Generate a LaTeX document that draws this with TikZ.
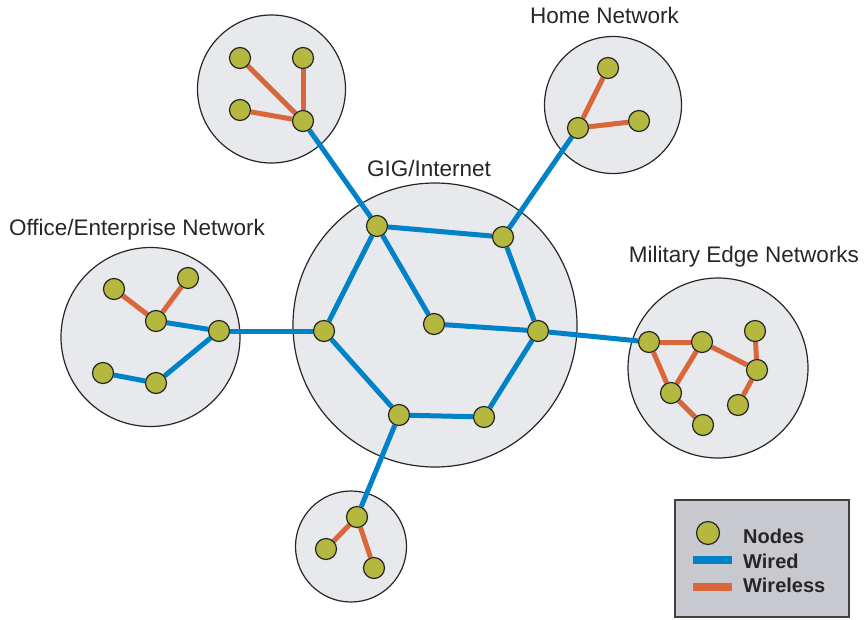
\documentclass[tikz,border=0pt]{standalone}
\usepackage{fontspec}
\setmainfont{Liberation Sans}
\usetikzlibrary{positioning}
\usetikzlibrary{backgrounds}

\definecolor{wiredblue}{RGB}{0,130,200}
\definecolor{wirelessorange}{RGB}{217,103,58}
\definecolor{nodeolive}{RGB}{181,184,62}
\definecolor{cloudgray}{RGB}{232,233,236}
\definecolor{legendgray}{RGB}{199,201,206}

\tikzset{
  netnode/.style={circle, draw=black!85, line width=1.2pt, fill=nodeolive, minimum size=21pt, inner sep=0pt},
  cloud/.style={circle, draw=black!85, line width=1.2pt, fill=cloudgray, inner sep=0pt},
  wired/.style={draw=wiredblue, line width=5pt},
  wireless/.style={draw=wirelessorange, line width=5pt},
  netlabel/.style={font=\fontsize{22.5}{27}\selectfont, text=black!85, inner sep=0pt, anchor=base},
  legendtext/.style={font=\fontsize{20}{24}\selectfont\bfseries, text=black!85, inner sep=0pt, anchor=base west}
}

\begin{document}
\begin{tikzpicture}[x=1pt, y=-1pt]

  \useasboundingbox (0,0) rectangle (867,619);

  % Clouds
  \begin{scope}[on background layer]
    \node[cloud, minimum size=284pt] (gig) at (435,325) {};
    \node[cloud, minimum size=148pt] (squad) at (271.5,89) {};
    \node[cloud, minimum size=137pt] (home) at (613,105) {};
    \node[cloud, minimum size=179pt] (office) at (150.5,337) {};
    \node[cloud, minimum size=180pt] (military) at (718,368) {};
    \node[cloud, minimum size=111pt] (bottom) at (351,546.5) {};
  \end{scope}

  % Labels
  \node[netlabel] (gig_lbl) at (429,176) {GIG/Internet};
  \node[netlabel] (home_lbl) at (604.5,23) {Home Network};
  \node[netlabel] (office_lbl) at (137,235) {Office/Enterprise Network};
  \node[netlabel] (military_lbl) at (744,262) {Military Edge Networks};

  % Define nodes
  \node[netnode] (gig_nw) at (377,226) {};
  \node[netnode] (gig_ne) at (503,237) {};
  \node[netnode] (gig_w) at (324,331) {};
  \node[netnode] (gig_c) at (434,324) {};
  \node[netnode] (gig_e) at (538,331) {};
  \node[netnode] (gig_sw) at (399,415) {};
  \node[netnode] (gig_se) at (484,417) {};

  \node[netnode] (squad_hub) at (303,121) {};
  \node[netnode] (squad_a) at (240,58) {};
  \node[netnode] (squad_b) at (303,58) {};
  \node[netnode] (squad_c) at (240,110) {};

  \node[netnode] (home_hub) at (578,128) {};
  \node[netnode] (home_a) at (608,68) {};
  \node[netnode] (home_b) at (639,121) {};

  \node[netnode] (off_hub) at (219,331) {};
  \node[netnode] (off_mid) at (156,321) {};
  \node[netnode] (off_a) at (114,289) {};
  \node[netnode] (off_b) at (188,278) {};
  \node[netnode] (off_low) at (156,383) {};
  \node[netnode] (off_end) at (103,373) {};

  \node[netnode] (mil_hub) at (649,342) {};
  \node[netnode] (mil_a) at (702,342) {};
  \node[netnode] (mil_b) at (671,393) {};
  \node[netnode] (mil_c) at (703,425) {};
  \node[netnode] (mil_d) at (757,370) {};
  \node[netnode] (mil_e) at (755,331) {};
  \node[netnode] (mil_f) at (738,405) {};

  \node[netnode] (bot_hub) at (357,517) {};
  \node[netnode] (bot_a) at (326,549) {};
  \node[netnode] (bot_b) at (374,568) {};

  % Connect nodes
  \begin{scope}[on background layer]
    \draw[wired] (gig_nw) -- (gig_ne);
    \draw[wired] (gig_nw) -- (gig_w);
    \draw[wired] (gig_nw) -- (gig_c);
    \draw[wired] (gig_ne) -- (gig_e);
    \draw[wired] (gig_c) -- (gig_e);
    \draw[wired] (gig_w) -- (gig_sw);
    \draw[wired] (gig_sw) -- (gig_se);
    \draw[wired] (gig_se) -- (gig_e);

    \draw[wired] (gig_nw) -- (squad_hub);
    \draw[wired] (gig_ne) -- (home_hub);
    \draw[wired] (gig_w) -- (off_hub);
    \draw[wired] (gig_e) -- (mil_hub);
    \draw[wired] (gig_sw) -- (bot_hub);

    \draw[wireless] (squad_hub) -- (squad_a);
    \draw[wireless] (squad_hub) -- (squad_b);
    \draw[wireless] (squad_hub) -- (squad_c);

    \draw[wireless] (home_hub) -- (home_a);
    \draw[wireless] (home_hub) -- (home_b);

    \draw[wired] (off_hub) -- (off_mid);
    \draw[wired] (off_hub) -- (off_low);
    \draw[wired] (off_low) -- (off_end);
    \draw[wireless] (off_mid) -- (off_a);
    \draw[wireless] (off_mid) -- (off_b);

    \draw[wireless] (mil_hub) -- (mil_a);
    \draw[wireless] (mil_hub) -- (mil_b);
    \draw[wireless] (mil_a) -- (mil_b);
    \draw[wireless] (mil_b) -- (mil_c);
    \draw[wireless] (mil_a) -- (mil_d);
    \draw[wireless] (mil_d) -- (mil_e);
    \draw[wireless] (mil_d) -- (mil_f);

    \draw[wireless] (bot_hub) -- (bot_a);
    \draw[wireless] (bot_hub) -- (bot_b);
  \end{scope}

  % Legend
  \node[draw=black!75, line width=1.5pt, fill=legendgray, minimum width=174pt, minimum height=117pt, inner sep=0pt] (legend) at (762,558.5) {};
  \node[netnode, minimum size=23pt] (key_node) at (708,533) {};
  \coordinate (key_wired_a) at (693,560);
  \coordinate (key_wired_b) at (732,560);
  \coordinate (key_wireless_a) at (693,587);
  \coordinate (key_wireless_b) at (732,587);
  \draw[wired, line width=8pt] (key_wired_a) -- (key_wired_b);
  \draw[wireless, line width=8pt] (key_wireless_a) -- (key_wireless_b);
  \node[legendtext] (key_nodes_txt) at (743,543) {Nodes};
  \node[legendtext] (key_wired_txt) at (743,568) {Wired};
  \node[legendtext] (key_wireless_txt) at (743,592) {Wireless};

\end{tikzpicture}
\end{document}
